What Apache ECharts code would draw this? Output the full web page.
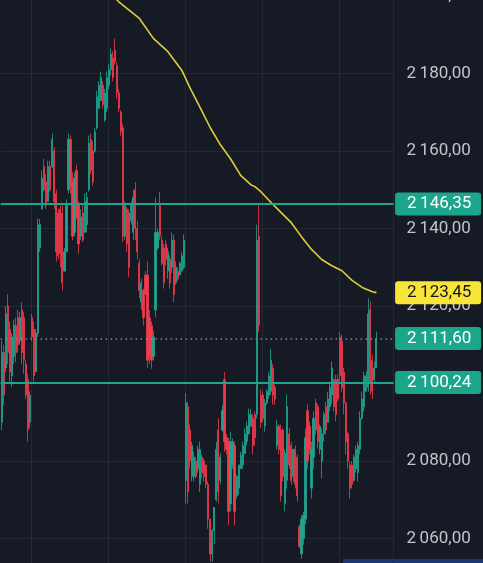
<!DOCTYPE html>
<html><head><meta charset="utf-8">
<script src="https://cdn.jsdelivr.net/npm/echarts@6/dist/echarts.min.js"></script>
<style>html,body{margin:0;padding:0;background:#161a25;}#c{width:483px;height:563px;}</style>
</head><body><div id="c"></div>
<script>
// candles: [open, close, low, high]
const ohlc = [
[2090,2108,2088,2111],[2108,2097,2094.5,2110],[2104,2118,2103,2120],[2120,2108,2105,2123],[2114,2103,2100.5,2116],
[2102,2112,2099,2113],[2107,2115,2105,2116.5],[2115,2108,2105.5,2117],[2117,2110,2108,2119],[2111,2117,2110,2118.5],
[2119,2108,2105,2121],[2117,2106,2102.5,2118.5],[2105,2097,2096,2106],[2101,2088,2085,2102.5],[2090,2097,2088.5,2098],
[2117,2112,2111,2118],[2114,2102,2100.5,2116],[2103,2113,2103,2114],[2113,2141,2112,2142.5],[2135,2141,2134,2142.5],
[2145,2153,2145,2155],[2156,2150,2149.5,2158],[2152,2146,2145,2154],[2147,2156,2147,2157.5],[2156,2150,2149.5,2157.5],
[2156,2163,2155.5,2164.5],[2160,2147,2145,2161],[2149,2134,2131.5,2150],[2144,2133,2132,2145],[2145,2133.5,2130,2146],
[2144,2126,2124,2146],[2129,2134,2129,2135],[2134,2146,2134,2147.5],[2150,2163,2149,2164.5],[2163,2151,2149,2164],
[2152,2138,2137,2154.5],[2139,2153,2138,2154.5],[2155,2143,2142.5,2156.5],[2146,2136,2133.5,2147],[2138,2143,2137,2145],
[2144,2137,2136.5,2146],[2139,2147,2139,2149],[2141,2148,2139,2149.5],[2150,2162,2149.5,2164],[2163,2155,2154,2164.5],
[2160,2152,2151,2162.5],[2160,2165,2159.5,2166],[2166,2174,2165.5,2175.5],[2171,2177,2171,2178],[2173,2179,2173,2180.5],
[2177,2172,2171,2178],[2168,2175,2167.5,2176],[2171,2179,2170,2180.5],[2177,2181,2176,2182.5],[2181,2185,2179.5,2186.5],
[2184,2179,2178,2185.7],[2186,2183,2182.3,2189],[2182,2175,2173.5,2183],[2175,2171,2170,2176],[2170,2165,2164,2170.5],
[2166,2138,2136.5,2167],[2138,2146,2137,2147],[2145,2136,2134,2145.5],[2144,2130,2127.5,2145],[2142,2146,2141,2147],
[2139,2148,2137,2150],[2150,2140,2137,2152],[2140,2134,2132,2142],[2131,2124,2122,2132],[2121,2126,2119,2127],
[2124,2117,2115,2124.5],[2128,2123,2123,2129],[2128,2106,2104,2131.5],[2117,2107,2105,2119],[2115,2106,2103.8,2116],
[2107,2112,2106,2113.5],[2119,2139,2117,2148],[2135,2139,2134.5,2140],[2146,2138,2137,2149.5],[2137,2131,2130.5,2138],
[2135,2126,2124.5,2136],[2136,2132,2130.5,2137],[2129,2134,2127,2135],[2132,2126,2124.5,2133],[2130,2137,2128.5,2139],
[2137,2123,2121,2138.5],[2126,2130,2125.5,2131.5],[2129,2127,2126.5,2130],[2128,2131,2128,2131.5],[2129,2133,2129,2134],
[2130,2137,2129.5,2138.5],
[2075,2095,2069,2097.5],[2094,2072,2069,2095.3],[2088,2080,2078,2089.5],[2076,2084,2074.7,2085],[2076,2081,2074.7,2082.4],
[2080,2076,2075.5,2081],[2078,2083,2077,2084],[2074,2083,2072,2085],[2081,2077,2075.5,2081.7],[2080,2076,2074.7,2080.7],
[2079,2074,2073,2079],[2074,2065,2062.5,2074.7],[2065,2056,2054,2065],[2056,2062,2054,2062.5],[2062,2068,2058.5,2068],
[2070,2083,2069.5,2085],[2088,2072,2069,2091],[2075,2081,2074,2082],[2088,2093,2087.6,2094.5],[2101,2085,2082.4,2103],
[2086,2083,2081.7,2087],[2085,2067,2063.5,2086],[2069,2085,2067,2087.6],[2079,2085,2078,2085.8],[2084,2067,2063.5,2085],
[2071,2076,2070.3,2076.5],[2073,2079,2071.3,2079],[2078,2081.5,2078,2082.4],[2079,2084,2078,2085],[2082,2087,2081.7,2088.4],
[2085,2089,2084,2090.2],[2087,2092,2086.8,2093.5],[2089,2092,2089.4,2093.5],[2091,2084,2081.7,2092],[2092,2086,2084,2092.8],
[2092,2137,2091,2141],[2138,2115,2113.4,2146.3],[2097,2090,2088.5,2098.5],[2097,2091,2090,2098],[2089,2095,2087.6,2096],
[2095,2098,2094.5,2098.5],[2097,2102,2096,2103],[2098,2106,2097,2109],[2104,2097,2094.5,2105],[2099,2096,2094.5,2099.7],
[2084,2089,2083,2090.7],[2089,2083,2081.7,2089.5],[2088,2071,2069.5,2089.4],[2088,2076,2074.7,2088.4],[2069,2082,2067,2083],
[2075,2094,2072.9,2097.2],[2087,2079,2078,2088.4],[2084,2075,2073.9,2085],[2076,2083,2074.7,2083.2],[2083,2074,2072.9,2084],
[2081,2071,2069.5,2081.7],[2063,2058,2057.4,2063.6],[2056,2065,2054.8,2066],[2060,2066,2058.4,2066.9],[2065,2086,2063.6,2088.4],
[2093,2080,2078,2094.6],[2089,2083,2081.7,2090.2],[2073,2083,2070.3,2085],[2081,2091,2078,2092.8],[2095,2088,2086.8,2096.1],
[2094,2085,2083.2,2094.6],[2083,2089,2081.7,2089.4],[2080,2087,2075.5,2088.4],[2087,2092,2085,2092.8],[2094,2088,2086.8,2095.3],
[2090,2096,2090.2,2097.9],[2094,2099,2092.8,2100.5],[2097,2104,2094.6,2105.7],[2101,2094,2092.8,2101.3],[2101,2092,2090.2,2102.3],
[2101,2096,2095.3,2102.3],[2112,2102,2100.5,2113.4],[2111,2099,2097.9,2112.6],[2103,2095,2092,2104],[2095,2085,2081.7,2095.3],
[2087,2080,2078,2087.6],[2079,2073,2070.3,2079.9],[2079,2074,2072.9,2080],[2075,2081,2074.7,2081.7],[2078,2083,2077,2084],
[2077,2084,2074.7,2085],[2083,2091,2081.7,2092.8],[2091,2096,2090.7,2097.9],[2094,2102,2092.8,2103.1],[2098,2102,2097.9,2103.1],
[2099,2118,2097.9,2122],[2119,2100,2097.1,2121.2],[2106,2098,2096,2107.5],[2101,2104,2100.5,2105.7],[2104,2111.6,2104,2113.4]
];
// moving average, read at these candle positions
const maIdx = [50,58,68,75,82,89,93,98,103,108,113,118,123,125,128,133,138,143,148,153,158,163,168,173,178,183,185];
const maVal = [2203,2198.4,2194.2,2189.0,2185.7,2180.8,2176.3,2171.2,2166.0,2161.6,2158.0,2153.7,2151.3,2150.8,2149.5,2146.7,2144.1,2141.5,2137.9,2134.6,2132.0,2130.4,2129.1,2126.6,2124.8,2123.7,2123.45];
const levelLines = [2146.35, 2100.24];
const lastPrice = 2111.60;
const maLast = 2123.45;
const yMin = 2040, yMax = 2200, yStep = 20;
const vGridIdx = [15, 53, 91, 129, 167];
const slotCount = 194;

const categories = Array.from({length: slotCount}, (_, i) => String(i));
const maData = maIdx.map((k, j) => [k, maVal[j]]);

function fmt(v) {
  const s = Number(v).toFixed(2);
  const [ip, dp] = s.split('.');
  return ip.slice(0, -3) + '\u2009' + ip.slice(-3) + ',' + dp;
}

const TEAL = '#1fa58e', RED = '#ef3b4d';
const FONT = 'Roboto';
function badge(bg, fg) {
  return {
    show: true, position: 'end', distance: 1.5,
    formatter: p => fmt(p.value),
    backgroundColor: bg, color: fg, borderRadius: 3,
    fontFamily: FONT, fontSize: 17, lineHeight: 16,
    padding: [4, 8, 3, 12], width: 66
  };
}

const chart = echarts.init(document.getElementById('c'), null, {renderer: 'canvas'});
chart.setOption({
  animation: false,
  backgroundColor: '#161a25',
  grid: {left: 0.6, top: -4, width: 393, height: 620, containLabel: false, outerBoundsMode: 'none'},
  xAxis: {
    type: 'category', data: categories, boundaryGap: true,
    axisLine: {show: false}, axisTick: {show: false}, axisLabel: {show: false},
    splitLine: {show: true, interval: (i) => vGridIdx.includes(i), lineStyle: {color: '#252935', width: 1}}
  },
  yAxis: {
    type: 'value', position: 'right', min: yMin, max: yMax, interval: yStep,
    axisLine: {show: false}, axisTick: {show: false},
    axisLabel: {margin: 13, color: '#c2c5cc', fontFamily: FONT, fontSize: 17, formatter: v => fmt(v)},
    splitLine: {show: true, lineStyle: {color: '#252935', width: 1}}
  },
  series: [
    {
      type: 'candlestick', data: ohlc, barWidth: 1.7,
      itemStyle: {color: TEAL, color0: RED, borderColor: TEAL, borderColor0: RED, borderWidth: 0.8},
      markLine: {
        silent: true, symbol: ['none', 'none'], animation: false,
        data: [
          {yAxis: levelLines[0], lineStyle: {color: TEAL, width: 2, type: 'solid'}, label: badge('#1ba68c', '#ffffff')},
          {yAxis: levelLines[1], lineStyle: {color: TEAL, width: 2, type: 'solid'}, label: badge('#1ba68c', '#ffffff')},
          {yAxis: lastPrice, lineStyle: {color: '#7d8c95', width: 1.5, type: [1.5, 3.5]}, label: badge('#1ba68c', '#ffffff')}
        ]
      }
    },
    {
      type: 'line', data: maData, showSymbol: false, symbol: 'none', connectNulls: true,
      lineStyle: {color: '#dccd3c', width: 1.6}, z: 3,
      markLine: {
        silent: true, symbol: ['none', 'none'], animation: false,
        data: [{yAxis: maLast, lineStyle: {color: 'rgba(0,0,0,0)', width: 0}, label: badge('#f9e43a', '#131722')}]
      }
    }
  ],
  graphic: [
    {type: 'rect', shape: {x: 343, y: 559, width: 140, height: 4}, style: {fill: '#1d3670'}, silent: true}
  ]
});
</script></body></html>
